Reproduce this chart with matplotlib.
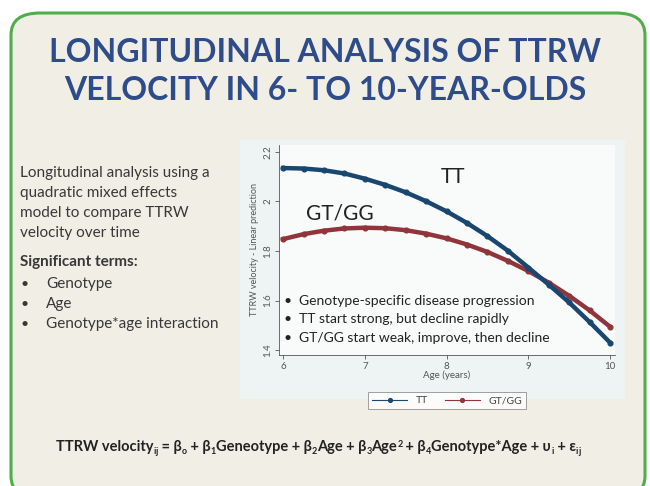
import numpy as np
import matplotlib
matplotlib.use('Agg')
import matplotlib.pyplot as plt
from matplotlib.patches import FancyBboxPatch, Rectangle

plt.rcParams['font.family'] = ['Lato', 'DejaVu Sans']

# predicted TTRW velocity by age
ages = [6.0, 6.25, 6.5, 6.75, 7.0, 7.25, 7.5, 7.75, 8.0,
        8.25, 8.5, 8.75, 9.0, 9.25, 9.5, 9.75, 10.0]
tt = [2.135, 2.133, 2.126, 2.113, 2.092, 2.067, 2.037, 2.001, 1.960,
      1.913, 1.860, 1.801, 1.733, 1.664, 1.592, 1.513, 1.430]
gtgg = [1.848, 1.868, 1.882, 1.891, 1.894, 1.892, 1.884, 1.870, 1.851,
        1.826, 1.796, 1.760, 1.719, 1.672, 1.619, 1.560, 1.494]

xticks = [6, 7, 8, 9, 10]
yticks = [1.4, 1.6, 1.8, 2.0, 2.2]
ytick_labels = ['1.4', '1.6', '1.8', '2', '2.2']

title_lines = ['LONGITUDINAL ANALYSIS OF TTRW', 'VELOCITY IN 6- TO 10-YEAR-OLDS']
intro_lines = ['Longitudinal analysis using a', 'quadratic mixed effects',
               'model to compare TTRW', 'velocity over time']
terms = ['Genotype', 'Age', 'Genotype*age interaction']
notes = ['Genotype-specific disease progression',
         'TT start strong, but decline rapidly',
         'GT/GG start weak, improve, then decline']

W, H = 650, 486
navy = '#1a476f'
maroon = '#90353b'
title_col = '#2e4c8a'
txt_col = '#383838'


def fx(x):
    return x / W


def fy(y):
    return 1 - y / H


fig = plt.figure(figsize=(6.5, 4.86), dpi=100)
fig.patch.set_facecolor('white')

# slide frame
frame = FancyBboxPatch((fx(11), fy(498)), fx(634), (498 - 13) / H,
                       boxstyle='round,pad=0,rounding_size=0.045',
                       transform=fig.transFigure, facecolor='#f1eee5',
                       edgecolor='#4fae4a', linewidth=2.2, zorder=-2)
fig.patches.append(frame)

# chart panel
panel = Rectangle((fx(240), fy(399)), fx(385), (399 - 140) / H,
                  transform=fig.transFigure, facecolor='#eef3f4',
                  edgecolor='none', zorder=-1)
fig.patches.append(panel)

for i, line in enumerate(title_lines):
    fig.text(0.5, fy(53 + 37 * i), line, ha='center', va='center',
             fontsize=23, color=title_col, fontweight='bold')

for i, line in enumerate(intro_lines):
    fig.text(fx(20), fy(173 + 20 * i), line, ha='left', va='center',
             fontsize=11, color=txt_col)
fig.text(fx(20), fy(262), 'Significant terms:', ha='left', va='center',
         fontsize=11, color=txt_col, fontweight='bold')
for i, t in enumerate(terms):
    fig.text(fx(20), fy(284 + 20 * i), '•', ha='left', va='center',
             fontsize=10, color=txt_col)
    fig.text(fx(46), fy(284 + 20 * i), t, ha='left', va='center',
             fontsize=11, color=txt_col)

ax = fig.add_axes([fx(279), fy(355), fx(615 - 279), (355 - 145) / H])
ax.set_facecolor('#f9fbfb')
ax.plot(ages, tt, color=navy, lw=3.2, marker='o', ms=3.4, label='TT', zorder=3)
ax.plot(ages, gtgg, color=maroon, lw=3.2, marker='o', ms=3.4, label='GT/GG', zorder=2)
ax.set_xlim(5.95, 10.06)
ax.set_ylim(1.38, 2.228)
ax.set_xticks(xticks)
ax.set_yticks(yticks)
ax.set_yticklabels(ytick_labels, rotation=90, va='center')
ax.tick_params(labelsize=7, colors='#555555', length=3, width=0.6, pad=2)
for s in ['top', 'right']:
    ax.spines[s].set_visible(False)
for s in ['left', 'bottom']:
    ax.spines[s].set_color('#555555')
    ax.spines[s].set_linewidth(0.6)
ax.set_xlabel('Age (years)', fontsize=7, color='#555555', labelpad=0)
ax.set_ylabel('TTRW velocity - Linear prediction', fontsize=6.5,
              color='#555555', labelpad=3)

ax.text(8.08, 2.10, 'TT', fontsize=15, color='#222222', ha='center', va='center')
ax.text(6.7, 1.95, 'GT/GG', fontsize=15, color='#222222', ha='center', va='center')
for i, n in enumerate(notes):
    yy = 1.60 - 0.075 * i
    ax.text(6.0, yy, '•', fontsize=10, color='#222222', ha='left', va='center')
    ax.text(6.2, yy, n, fontsize=10, color='#222222', ha='left', va='center')

leg = ax.legend(loc='upper center', bbox_to_anchor=(0.5, -0.15), ncol=2,
                fontsize=7.5, frameon=True, fancybox=False, edgecolor='#777777',
                handlelength=3.4, borderpad=0.4, columnspacing=1.6,
                markerscale=0.8)
leg.get_frame().set_linewidth(0.6)
for h in leg.get_lines():
    h.set_linewidth(0.8)
for t in leg.get_texts():
    t.set_color('#444444')

# equation along the bottom, drawn piece by piece
pieces = [('TTRW velocity', 0), ('i', -1), ('j', -1), (' = β', 0), ('o', -1),
          (' + β', 0), ('1', -1), ('Geneotype + β', 0), ('2', -1),
          ('Age + β', 0), ('3', -1), ('Age', 0), ('2', 1), (' + β', 0),
          ('4', -1), ('Genotype*Age + υ', 0), ('i', -1), (' + ε', 0),
          ('i', -1), ('j', -1)]
fig.canvas.draw()
renderer = fig.canvas.get_renderer()
objs = []
widths = []
for s, kind in pieces:
    size = 10.5 if kind == 0 else 6.5
    t = fig.text(0, 0, s, fontsize=size, fontweight='bold', color='#222222',
                 ha='left', va='baseline')
    objs.append((t, kind))
    widths.append(t.get_window_extent(renderer).width)
total = sum(widths)
x0 = (318 - total / 2)
base = 451
for (t, kind), w in zip(objs, widths):
    off = {0: 0, -1: -3, 1: 4}[kind]
    t.set_position((fx(x0), fy(base - off)))
    x0 += w

fig.savefig('out.png', dpi=100, facecolor=fig.get_facecolor())
